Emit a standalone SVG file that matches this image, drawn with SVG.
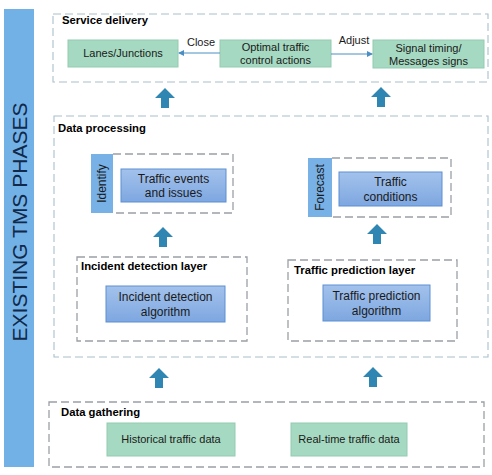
<svg xmlns="http://www.w3.org/2000/svg" width="492" height="475" viewBox="0 0 492 475">
<defs>
<linearGradient id="gb" x1="0" y1="0" x2="0" y2="1"><stop offset="0" stop-color="#a3c2ec"/><stop offset="1" stop-color="#7ea7e0"/></linearGradient>
<marker id="ah" markerWidth="6" markerHeight="6" refX="5" refY="3" orient="auto" markerUnits="userSpaceOnUse"><path d="M0,0 L6,3 L0,6 z" fill="#4a8fc4"/></marker>
<path id="up" d="M-10,9 L0,-1 L10,9 L4,9 L4,19 L-4,19 L-4,9 z"/>
</defs>
<style>
text{font-family:"Liberation Sans",Arial,sans-serif;fill:#1a1a1a}
.t{font-size:11px;text-anchor:middle}
.tb{font-size:12px;text-anchor:middle}
.b{font-size:11.300px;font-weight:bold;fill:#000}
.dash{fill:none;stroke:#9aa0a6;stroke-width:1.3;stroke-dasharray:8,4}
.dashg{fill:none;stroke:#a9c0cc;stroke-width:1.1;stroke-dasharray:8,4}
.green{fill:#a6d9c1;stroke:#93cbb0;stroke-width:1}
.blue{fill:url(#gb);stroke:#5d8fd2;stroke-width:1}
.tab{fill:#78b1e6}
.arr{fill:#2f86b3}
.conn{stroke:#4a8fc4;stroke-width:1;fill:none}
</style>
<rect x="4" y="9" width="30" height="458" fill="#72b1e6"/>
<text transform="translate(27,222) rotate(-90)" style="font-size:21px;text-anchor:middle;fill:#11294a">EXISTING TMS PHASES</text>

<g id="service-delivery">
<rect class="dashg" x="53" y="14" width="435" height="68"/>
<text class="b" x="62" y="24">Service delivery</text>
</g>
<g id="lanes"><rect class="green" x="68" y="40" width="110" height="27"/><text class="t" x="123" y="57">Lanes/Junctions</text></g>
<g id="optimal"><rect class="green" x="220" y="40" width="111" height="27"/><text class="t" x="275.500" y="51">Optimal traffic</text><text class="t" x="275.500" y="64">control actions</text></g>
<g id="signal"><rect class="green" x="373" y="40" width="111" height="28"/><text class="t" x="428.500" y="52">Signal timing/</text><text class="t" x="428.500" y="65">Messages signs</text></g>

<g id="data-processing">
<rect class="dashg" x="54" y="116" width="434" height="241"/>
<text class="b" x="58" y="132">Data processing</text>
</g>
<g id="identify-group">
<path class="dash" d="M113,154 H233 V213 H113"/>
<rect class="tab" x="91" y="154" width="22" height="59"/>
<text transform="translate(106,183.500) rotate(-90)" class="tb">Identify</text>
</g>
<g id="traffic-events"><rect class="blue" x="121" y="169" width="105" height="33"/><text class="tb" x="173.500" y="182.500">Traffic events</text><text class="tb" x="173.500" y="197">and issues</text></g>
<g id="incident-layer">
<rect class="dash" x="77" y="257" width="170" height="84"/>
<text class="b" x="81" y="270">Incident detection layer</text>
</g>
<g id="incident-algo"><rect class="blue" x="106" y="286" width="119" height="36"/><text class="tb" x="165.500" y="301">Incident detection</text><text class="tb" x="165.500" y="316">algorithm</text></g>

<g id="forecast-group">
<path class="dash" d="M332,158 H451 V217 H332"/>
<rect class="tab" x="308" y="158" width="24" height="59"/>
<text transform="translate(324,187.500) rotate(-90)" class="tb">Forecast</text>
</g>
<g id="traffic-conditions"><rect class="blue" x="339" y="172" width="103" height="34"/><text class="tb" x="390.500" y="186">Traffic</text><text class="tb" x="390.500" y="201">conditions</text></g>
<g id="prediction-layer">
<rect class="dash" x="288" y="260" width="169" height="81"/>
<text class="b" x="294" y="274">Traffic prediction layer</text>
</g>
<g id="prediction-algo"><rect class="blue" x="323" y="285" width="107" height="36"/><text class="tb" x="376.500" y="300">Traffic prediction</text><text class="tb" x="376.500" y="315">algorithm</text></g>

<g id="data-gathering">
<rect class="dash" x="49" y="402" width="435" height="65"/>
<text class="b" x="61" y="416">Data gathering</text>
</g>
<g id="historical"><rect class="green" x="107" y="423" width="128" height="33"/><text class="t" x="171" y="443">Historical traffic data</text></g>
<g id="realtime"><rect class="green" x="291" y="423" width="116" height="33"/><text class="t" x="349" y="443">Real-time traffic data</text></g>

<g id="connectors">
<line class="conn" x1="220" y1="53" x2="179" y2="53" marker-end="url(#ah)"/>
<text x="201" y="46" style="font-size:11px;text-anchor:middle">Close</text>
<line class="conn" x1="331" y1="54" x2="372" y2="54" marker-end="url(#ah)"/>
<text x="354" y="44" style="font-size:11px;text-anchor:middle">Adjust</text>
<use href="#up" class="arr" x="165" y="89"/>
<use href="#up" class="arr" x="381" y="88"/>
<use href="#up" class="arr" x="163" y="228"/>
<use href="#up" class="arr" x="377" y="225"/>
<use href="#up" class="arr" x="159" y="369"/>
<use href="#up" class="arr" x="373" y="368"/>
</g>
</svg>
